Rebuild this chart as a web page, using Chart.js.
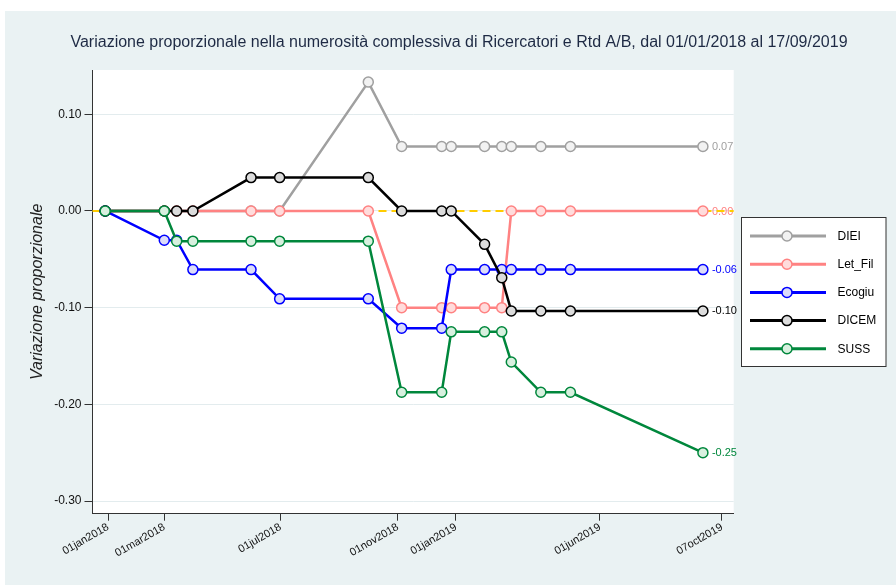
<!DOCTYPE html>
<html>
<head>
<meta charset="utf-8">
<script src="https://cdn.jsdelivr.net/npm/chart.js@4.4.1/dist/chart.umd.min.js"></script>
<style>
  html, body { margin: 0; padding: 0; background: #ffffff; }
  #wrap { width: 896px; height: 585px; position: relative; }
  canvas { display: block; }
</style>
</head>
<body>
<div id="wrap"><canvas id="c" width="896" height="585"></canvas></div>
<script>
// ---------------- DATA ----------------
const dates = ['2017-12-29','2018-03-01','2018-03-14','2018-03-31','2018-05-31','2018-06-30',
               '2018-10-01','2018-11-05','2018-12-17','2018-12-27','2019-01-31','2019-02-18',
               '2019-02-28','2019-03-31','2019-05-01','2019-09-17'];

const seriesNames = ['DIEI', 'Let_Fil', 'Ecogiu', 'DICEM', 'SUSS'];

const DIEI    = [0, 0, 0, 0, 0, 0, 0.1333, 0.0667, 0.0667, 0.0667, 0.0667, 0.0667, 0.0667, 0.0667, 0.0667, 0.0667];
const Let_Fil = [0, 0, 0, 0, 0, 0, 0, -0.1, -0.1, -0.1, -0.1, -0.1, 0, 0, 0, 0];
const Ecogiu  = [0, -0.0303, -0.0303, -0.0606, -0.0606, -0.0909, -0.0909, -0.1212, -0.1212, -0.0606, -0.0606, -0.0606, -0.0606, -0.0606, -0.0606, -0.0606];
const DICEM   = [0, 0, 0, 0, 0.0345, 0.0345, 0.0345, 0, 0, 0, -0.0345, -0.069, -0.1034, -0.1034, -0.1034, -0.1034];
const SUSS    = [0, 0, -0.03125, -0.03125, -0.03125, -0.03125, -0.03125, -0.1875, -0.1875, -0.125, -0.125, -0.125, -0.15625, -0.1875, -0.1875, -0.25];

const xTickDates  = ['2018-01-01','2018-03-01','2018-07-01','2018-11-01','2019-01-01','2019-06-01','2019-10-07'];
const xTickLabels = ['01jan2018','01mar2018','01jul2018','01nov2018','01jan2019','01jun2019','07oct2019'];
const yTicks      = [0.10, 0.00, -0.10, -0.20, -0.30];
const yTickLabels = ['0.10', '0.00', '-0.10', '-0.20', '-0.30'];

const titleText  = 'Variazione proporzionale nella numerosità complessiva di Ricercatori e Rtd A/B, dal 01/01/2018 al 17/09/2019';
const yTitleText = 'Variazione proporzionale';

// ---------------- STYLE ----------------
const lineColors = ['#A0A0A0', '#FF8282', '#0000FF', '#000000', '#00873C'];
const fillColors = ['#F2F2F2', '#FFDCDC', '#DCDCFA', '#DCDCDC', '#D8F0DF'];
const FONT = "'Liberation Sans', Arial, Helvetica, sans-serif";
const BG = '#EAF2F3';

// ---------------- HELPERS ----------------
const DAY0 = Date.UTC(2018, 0, 1);
function toDay(s) {
  const p = s.split('-').map(Number);
  return (Date.UTC(p[0], p[1] - 1, p[2]) - DAY0) / 86400000;
}
const xDays = dates.map(toDay);
const xTickDays = xTickDates.map(toDay);
const seriesValues = [DIEI, Let_Fil, Ecogiu, DICEM, SUSS];

const datasets = seriesNames.map((name, i) => ({
  label: name,
  data: xDays.map((d, k) => ({ x: d, y: seriesValues[i][k] })),
  borderColor: lineColors[i],
  backgroundColor: fillColors[i],
  pointBackgroundColor: fillColors[i],
  pointBorderColor: lineColors[i],
  pointRadius: 5,
  pointBorderWidth: 1.5,
  borderWidth: 2.5,
  tension: 0,
  order: seriesNames.length - i
}));

// ---------------- PLUGINS ----------------
const decor = {
  id: 'decor',
  beforeDraw(chart) {
    const ctx = chart.ctx, a = chart.chartArea;
    ctx.save();
    ctx.fillStyle = '#ffffff';
    ctx.fillRect(0, 0, chart.width, chart.height);
    ctx.fillStyle = BG;
    ctx.fillRect(5, 11, chart.width - 5, chart.height - 11);
    ctx.fillStyle = '#ffffff';
    ctx.fillRect(a.left, a.top, a.right - a.left, a.bottom - a.top);
    // title
    ctx.fillStyle = '#1e2a44';
    ctx.font = '16px ' + FONT;
    ctx.textAlign = 'center';
    ctx.textBaseline = 'middle';
    ctx.fillText(titleText, 459, 43);
    // y title
    ctx.translate(38, (a.top + a.bottom) / 2);
    ctx.rotate(-Math.PI / 2);
    ctx.font = 'italic 16px ' + FONT;
    ctx.fillStyle = '#222222';
    ctx.fillText(yTitleText, 0, 0);
    ctx.restore();
  },
  beforeDatasetsDraw(chart) {
    const ctx = chart.ctx, a = chart.chartArea;
    const xs = chart.scales.x, ys = chart.scales.y;
    ctx.save();
    // end labels
    ctx.font = '11px ' + FONT;
    ctx.textAlign = 'left';
    ctx.textBaseline = 'middle';
    seriesValues.forEach((vals, i) => {
      const last = vals.length - 1;
      const px = xs.getPixelForValue(xDays[last]);
      const py = ys.getPixelForValue(vals[last]);
      ctx.fillStyle = lineColors[i];
      ctx.fillText(vals[last].toFixed(2), px + 9, py + 0.5);
    });
    // zero dashed line
    const y0 = ys.getPixelForValue(0);
    ctx.strokeStyle = '#FFCC00';
    ctx.lineWidth = 2;
    ctx.setLineDash([8, 5]);
    ctx.beginPath();
    ctx.moveTo(a.left, y0);
    ctx.lineTo(a.right, y0);
    ctx.stroke();
    ctx.restore();
  },
  afterDraw(chart) {
    const ctx = chart.ctx;
    ctx.save();
    // legend box
    ctx.fillStyle = '#ffffff';
    ctx.fillRect(741.5, 217.5, 144.5, 149);
    ctx.strokeStyle = '#333333';
    ctx.lineWidth = 1;
    ctx.strokeRect(741.5, 217.5, 144.5, 149);
    seriesNames.forEach((name, i) => {
      const y = 236 + i * 28.2;
      ctx.strokeStyle = lineColors[i];
      ctx.lineWidth = 3;
      ctx.beginPath();
      ctx.moveTo(750, y);
      ctx.lineTo(826, y);
      ctx.stroke();
      ctx.beginPath();
      ctx.arc(787, y, 5, 0, Math.PI * 2);
      ctx.fillStyle = fillColors[i];
      ctx.fill();
      ctx.lineWidth = 1.5;
      ctx.stroke();
      ctx.fillStyle = '#000000';
      ctx.font = '12px ' + FONT;
      ctx.textAlign = 'left';
      ctx.textBaseline = 'middle';
      ctx.fillText(name, 837.5, y + 0.5);
    });
    ctx.restore();
  }
};

// ---------------- CHART ----------------
new Chart(document.getElementById('c'), {
  type: 'line',
  data: { datasets },
  plugins: [decor],
  options: {
    responsive: false,
    animation: false,
    events: [],
    layout: { padding: { left: 0, right: 162.3, top: 70, bottom: 0 } },
    plugins: { legend: { display: false }, title: { display: false }, tooltip: { enabled: false } },
    scales: {
      x: {
        type: 'linear',
        min: -16.3,
        max: 656.3,
        afterBuildTicks(scale) { scale.ticks = xTickDays.map(v => ({ value: v })); },
        afterFit(scale) { scale.height = 585 - 513.7; },
        grid: { drawOnChartArea: false, drawTicks: true, tickLength: 7, tickColor: '#333333', tickWidth: 1 },
        border: { display: true, color: '#333333', width: 1 },
        ticks: {
          autoSkip: false,
          minRotation: 30,
          maxRotation: 30,
          padding: 0,
          color: '#111111',
          font: { family: FONT, size: 11 },
          callback(v) { const k = xTickDays.indexOf(v); return k >= 0 ? xTickLabels[k] : ''; }
        }
      },
      y: {
        type: 'linear',
        min: -0.3131,
        max: 0.1458,
        afterBuildTicks(scale) { scale.ticks = yTicks.map(v => ({ value: v })); },
        afterFit(scale) { scale.width = 92.5; },
        grid: { drawOnChartArea: true, color: '#E3ECEE', lineWidth: 1, tickLength: 8, tickColor: '#333333', tickWidth: 1 },
        border: { display: true, color: '#333333', width: 1 },
        ticks: {
          padding: 3,
          color: '#111111',
          font: { family: FONT, size: 12 },
          callback(v) { const k = yTicks.findIndex(t => Math.abs(t - v) < 1e-9); return k >= 0 ? yTickLabels[k] : ''; }
        }
      }
    }
  }
});
</script>
</body>
</html>
